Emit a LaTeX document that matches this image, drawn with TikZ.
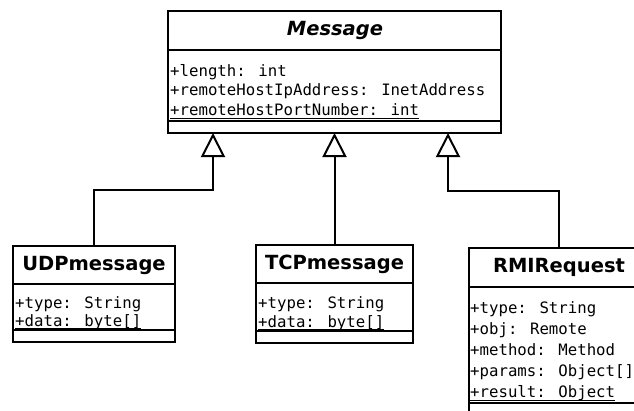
\documentclass[tikz,border=0pt]{standalone}
\usepackage{fontspec}
\usetikzlibrary{arrows.meta}
\newfontfamily\clsfont{DejaVu Sans}
\newfontfamily\attfont{DejaVu Sans Mono}
\begin{document}
\begin{tikzpicture}[x=1pt,y=-1pt,
  box/.style={draw, line width=2pt, anchor=north west, inner sep=0pt, outer sep=0pt},
  sepline/.style={line width=2pt},
  cname/.style={inner sep=0pt, font=\clsfont\fontsize{19.5}{20}\selectfont\bfseries},
  attr/.style={anchor=base west, inner sep=0pt, font=\attfont\fontsize{15.7}{19}\selectfont},
  uline/.style={line width=1pt},
  gen/.style={line width=2pt, -{Triangle[open, length=24pt, width=24pt, line width=2pt]}}
]
\useasboundingbox (0,0) rectangle (634,410);
\fill[white] (0,0) rectangle (634,410);
\clip (0,0) rectangle (634,410);

% Message
\node[box, minimum width=333pt, minimum height=122pt] (msg) at (168,11) {};
\draw[sepline] (168,50) -- (501,50);
\draw[sepline] (168,121) -- (501,121);
\node[cname] (msgname) at (335,30.5) {\itshape Message};
\node[attr] (m1) at (170,76) {+length: int};
\node[attr] (m2) at (170,95.5) {+remoteHostIpAddress: InetAddress};
\node[attr] (m3) at (170,115) {+remoteHostPortNumber: int};
\draw[uline] ([yshift=-3pt]m3.base west) -- ([yshift=-3pt]m3.base east);

% UDPmessage
\node[box, minimum width=162pt, minimum height=96pt] (udp) at (13,246) {};
\draw[sepline] (13,284) -- (175,284);
\draw[sepline] (13,330) -- (175,330);
\node[cname] (udpname) at (94,265) {UDPmessage};
\node[attr] (u1) at (15,308) {+type: String};
\node[attr] (u2) at (15,326) {+data: byte[]};
\draw[uline] ([yshift=-2.5pt]u2.base west) -- ([yshift=-2.5pt]u2.base east);

% TCPmessage
\node[box, minimum width=157pt, minimum height=98pt] (tcp) at (256,245) {};
\draw[sepline] (256,283) -- (413,283);
\draw[sepline] (256,331) -- (413,331);
\node[cname] (tcpname) at (334.5,264) {TCPmessage};
\node[attr] (c1) at (258,308) {+type: String};
\node[attr] (c2) at (258,327) {+data: byte[]};
\draw[uline] ([yshift=-2.5pt]c2.base west) -- ([yshift=-2.5pt]c2.base east);

% RMIRequest
\node[box, minimum width=180pt, minimum height=167pt] (rmi) at (469,248) {};
\draw[sepline] (469,287) -- (649,287);
\draw[sepline] (469,403) -- (649,403);
\node[cname] (rminame) at (559,267.5) {RMIRequest};
\node[attr] (r1) at (470,313) {+type: String};
\node[attr] (r2) at (470,334) {+obj: Remote};
\node[attr] (r3) at (470,355) {+method: Method};
\node[attr] (r4) at (470,376) {+params: Object[]};
\node[attr] (r5) at (470,397) {+result: Object};
\draw[uline] ([yshift=-3pt]r5.base west) -- ([yshift=-3pt]r5.base east);

% generalisation connectors
\coordinate (j1) at (213,190);
\coordinate (j3) at (448,191);
\draw[gen] (udp.north) |- (j1) -- (j1 |- msg.south);
\draw[gen] (tcp.north) -- (tcp.north |- msg.south);
\draw[gen] (rmi.north) |- (j3) -- (j3 |- msg.south);
\end{tikzpicture}
\end{document}
